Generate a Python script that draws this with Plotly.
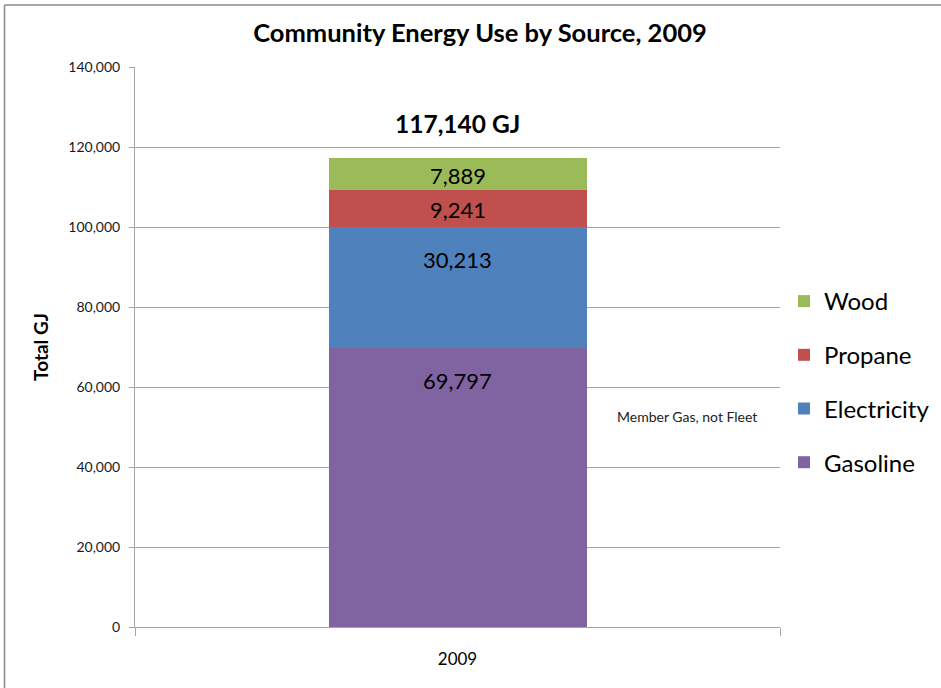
import plotly.graph_objects as go

category = ["2009"]
series_names = ["Gasoline", "Electricity", "Propane", "Wood"]
series_values = [69797, 30213, 9241, 7889]
series_colors = ["#8064A2", "#4F81BD", "#C0504D", "#9BBB59"]
y_tick_vals = [0, 20000, 40000, 60000, 80000, 100000, 120000, 140000]
total_label = "117,140 GJ"
note_text = "Member Gas, not Fleet"

FONT = "Lato, 'Open Sans', sans-serif"
W, H = 941, 688
ml, mr, mt, mb = 135, 161, 67, 61
plot_h = H - mt - mb
ymax = 140000
px_per_unit = plot_h / ymax

fig = go.Figure()
n = len(series_names)
for i, (name, val, col) in enumerate(zip(series_names, series_values, series_colors)):
    fig.add_trace(go.Bar(
        x=category, y=[val], name=name, marker=dict(color=col, line=dict(width=0)),
        width=0.4, legendgroup=name, legendrank=n - i, hoverinfo="skip",
    ))

# data labels
cum = 0
annotations = []
for name, val in zip(series_names, series_values):
    top = cum + val
    half_px = val * px_per_unit / 2
    shift = -min(33, half_px + 1)
    annotations.append(dict(
        x=0, y=top, xref="x", yref="y", text=f"{val:,}", showarrow=False,
        yshift=shift, yanchor="middle", font=dict(family=FONT, size=22, color="#000000"),
    ))
    cum = top
annotations.append(dict(
    x=0, y=cum, xref="x", yref="y", text=f"<b>{total_label}</b>", showarrow=False,
    yshift=35, yanchor="middle", font=dict(family=FONT, size=24.5, color="#000000"),
))

pw = W - ml - mr
def px2x(px):
    return (px - ml) / pw
def py2y(py):
    return (H - mb - py) / plot_h

annotations.append(dict(
    x=px2x(687), y=py2y(416), xref="paper", yref="paper",
    text=note_text, showarrow=False, xanchor="center", yanchor="middle",
    font=dict(family=FONT, size=14, color="#222222"),
))

shapes = [
    dict(type="line", xref="paper", yref="paper", x0=px2x(4.5), x1=px2x(4.5), y0=py2y(5), y1=py2y(700),
         line=dict(color="#8a8a8a", width=1.5)),
    dict(type="line", xref="paper", yref="paper", x0=px2x(4.5), x1=px2x(960), y0=py2y(5), y1=py2y(5),
         line=dict(color="#8a8a8a", width=1.5)),
]

fig.update_layout(
    width=W, height=H,
    margin=dict(l=ml, r=mr, t=mt, b=mb, autoexpand=False),
    barmode="stack",
    paper_bgcolor="white", plot_bgcolor="white",
    title=dict(text="<b>Community Energy Use by Source, 2009</b>", x=480 / W, xanchor="center",
               y=1 - 33 / H, yanchor="middle", font=dict(family=FONT, size=25.5, color="#000000")),
    xaxis=dict(type="category", range=[-0.5, 0.5], showline=True, linecolor="#a6a6a6", linewidth=1,
               ticks="outside", tickson="boundaries", ticklen=8, tickcolor="#a6a6a6",
               ticklabelstandoff=17,
               tickfont=dict(family=FONT, size=17, color="#000000"), showgrid=False,
               fixedrange=True),
    yaxis=dict(range=[0, ymax], tickvals=y_tick_vals, tickformat=",", showline=True,
               linecolor="#a6a6a6", linewidth=1, ticks="outside", ticklen=5, tickcolor="#a6a6a6",
               ticklabelstandoff=6,
               showgrid=True, gridcolor="#a6a6a6", gridwidth=1, zeroline=False,
               tickfont=dict(family=FONT, size=14, color="#1a1a1a"),
               title=dict(text="<b>Total GJ</b>", font=dict(family=FONT, size=19, color="#000000"),
                          standoff=14)),
    legend=dict(x=px2x(784), xanchor="left", y=py2y(279), yanchor="top",
                traceorder="grouped", tracegroupgap=19.5,
                font=dict(family=FONT, size=24, color="#000000"), bgcolor="rgba(0,0,0,0)"),
    annotations=annotations,
    shapes=shapes,
    font=dict(family=FONT),
)

fig.write_html("out.html")
